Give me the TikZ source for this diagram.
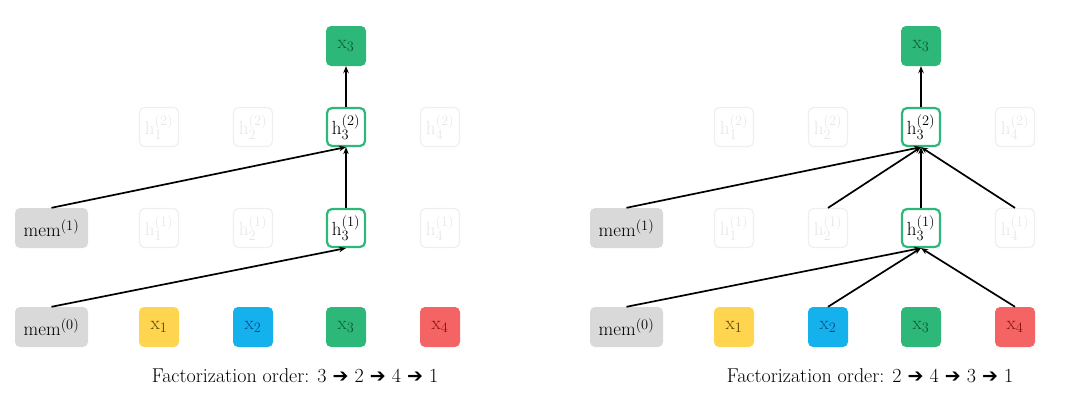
\documentclass[tikz,border=0pt]{standalone}
\usepackage{fontspec}
\usetikzlibrary{arrows.meta}
\newfontfamily\arrowfont{DejaVu Sans}
\definecolor{memgray}{HTML}{D9D9D9}
\definecolor{tokyellow}{HTML}{FFD44F}
\definecolor{tokblue}{HTML}{14B1EC}
\definecolor{tokgreen}{HTML}{2DB87A}
\definecolor{tokred}{HTML}{F46464}
\definecolor{txtyellow}{HTML}{5A4300}
\definecolor{txtblue}{HTML}{0A4A86}
\definecolor{txtgreen}{HTML}{0B5A2E}
\definecolor{txtred}{HTML}{8A0F0F}
\definecolor{fadeline}{HTML}{EFEFEF}
\definecolor{fadetext}{HTML}{E6E6E6}
\newcommand{\myarr}{{\arrowfont\fontsize{19}{22}\selectfont ➔}}
\tikzset{
  base/.style={rounded corners=5pt, minimum width=40pt, minimum height=40pt, inner sep=0pt, font=\fontsize{19}{22}\selectfont},
  memnode/.style={base, fill=memgray, minimum width=73pt},
  tok/.style={base, fill=#1},
  hid/.style={base, draw=tokgreen, line width=2.2pt, fill=white, minimum width=38pt, minimum height=38pt},
  faded/.style={base, draw=fadeline, line width=1.2pt, text=fadetext, minimum width=39pt, minimum height=39pt},
  arr/.style={-{Stealth[length=7pt,width=5.5pt]}, line width=1.7pt, black},
  captext/.style={font=\fontsize{20}{24}\selectfont, inner sep=0pt}
}
\begin{document}
\begin{tikzpicture}[x=1pt,y=-1pt]
\useasboundingbox (0,0) rectangle (1080,405);
% ---------- left panel ----------
\node[tok=tokgreen, text=txtgreen] (Ltop) at (346,46) {$\mathrm{x}_3$};
\node[faded] (Lh12) at (159,127) {$\mathrm{h}_1^{(2)}$};
\node[faded] (Lh22) at (253,127) {$\mathrm{h}_2^{(2)}$};
\node[hid] (Lh32) at (346,127) {$\mathrm{h}_3^{(2)}$};
\node[faded] (Lh42) at (440,127) {$\mathrm{h}_4^{(2)}$};
\node[memnode] (Lmem1) at (51.5,228) {$\mathrm{mem}^{(1)}$};
\node[faded] (Lh11) at (159,228) {$\mathrm{h}_1^{(1)}$};
\node[faded] (Lh21) at (253,228) {$\mathrm{h}_2^{(1)}$};
\node[hid] (Lh31) at (346,228) {$\mathrm{h}_3^{(1)}$};
\node[faded] (Lh41) at (440,228) {$\mathrm{h}_4^{(1)}$};
\node[memnode] (Lmem0) at (51.5,327) {$\mathrm{mem}^{(0)}$};
\node[tok=tokyellow, text=txtyellow] (Lx1) at (159,327) {$\mathrm{x}_1$};
\node[tok=tokblue, text=txtblue] (Lx2) at (253,327) {$\mathrm{x}_2$};
\node[tok=tokgreen, text=txtgreen] (Lx3) at (346,327) {$\mathrm{x}_3$};
\node[tok=tokred, text=txtred] (Lx4) at (440,327) {$\mathrm{x}_4$};
\node[captext] (Lcap) at (295,376) {Factorization order: 3 \myarr{} 2 \myarr{} 4 \myarr{} 1};
\draw[arr] (Lmem0.north) -- (Lh31.south);
\draw[arr] (Lmem1.north) -- (Lh32.south);
\draw[arr] (Lh31.north) -- (Lh32.south);
\draw[arr] (Lh32.north) -- (Ltop.south);
% ---------- right panel ----------
\node[tok=tokgreen, text=txtgreen] (Rtop) at (921,46) {$\mathrm{x}_3$};
\node[faded] (Rh12) at (734,127) {$\mathrm{h}_1^{(2)}$};
\node[faded] (Rh22) at (828,127) {$\mathrm{h}_2^{(2)}$};
\node[hid] (Rh32) at (921,127) {$\mathrm{h}_3^{(2)}$};
\node[faded] (Rh42) at (1015,127) {$\mathrm{h}_4^{(2)}$};
\node[memnode] (Rmem1) at (626.5,228) {$\mathrm{mem}^{(1)}$};
\node[faded] (Rh11) at (734,228) {$\mathrm{h}_1^{(1)}$};
\node[faded] (Rh21) at (828,228) {$\mathrm{h}_2^{(1)}$};
\node[hid] (Rh31) at (921,228) {$\mathrm{h}_3^{(1)}$};
\node[faded] (Rh41) at (1015,228) {$\mathrm{h}_4^{(1)}$};
\node[memnode] (Rmem0) at (626.5,327) {$\mathrm{mem}^{(0)}$};
\node[tok=tokyellow, text=txtyellow] (Rx1) at (734,327) {$\mathrm{x}_1$};
\node[tok=tokblue, text=txtblue] (Rx2) at (828,327) {$\mathrm{x}_2$};
\node[tok=tokgreen, text=txtgreen] (Rx3) at (921,327) {$\mathrm{x}_3$};
\node[tok=tokred, text=txtred] (Rx4) at (1015,327) {$\mathrm{x}_4$};
\node[captext] (Rcap) at (870,376) {Factorization order: 2 \myarr{} 4 \myarr{} 3 \myarr{} 1};
\draw[arr] (Rmem0.north) -- (Rh31.south);
\draw[arr] (Rx2.north) -- (Rh31.south);
\draw[arr] (Rx4.north) -- (Rh31.south);
\draw[arr] (Rmem1.north) -- (Rh32.south);
\draw[arr] (Rh21.north) -- (Rh32.south);
\draw[arr] (Rh31.north) -- (Rh32.south);
\draw[arr] (Rh41.north) -- (Rh32.south);
\draw[arr] (Rh32.north) -- (Rtop.south);
\end{tikzpicture}
\end{document}
